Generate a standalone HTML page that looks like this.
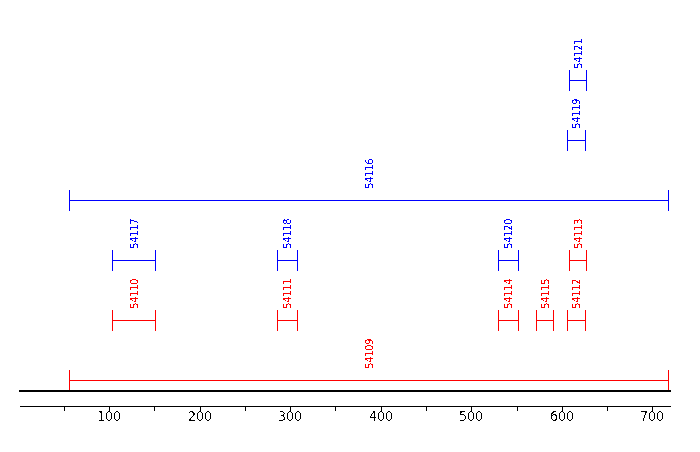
<!DOCTYPE html>
<html lang="en">
<head>
<meta charset="utf-8">
<title>Feature map</title>
<style>
html,body{margin:0;padding:0;background:#ffffff;}
body{width:700px;height:452px;overflow:hidden;}
svg{display:block;}
.lab{font-family:"DejaVu Sans Condensed","DejaVu Sans","Liberation Sans",sans-serif;font-size:11px;letter-spacing:-0.29px;}
.ax{font-family:"DejaVu Sans Condensed","DejaVu Sans","Liberation Sans",sans-serif;font-size:14px;letter-spacing:0px;fill:#000000;text-anchor:middle;}
</style>
</head>
<body>
<svg width="700" height="452" viewBox="0 0 700 452" shape-rendering="crispEdges">
<defs>
<filter id="bw" x="0" y="0" width="700" height="400" filterUnits="userSpaceOnUse" color-interpolation-filters="sRGB">
<feComponentTransfer><feFuncA type="discrete" tableValues="0 1"/></feComponentTransfer>
</filter>
<filter id="bw2" x="0" y="400" width="700" height="52" filterUnits="userSpaceOnUse" color-interpolation-filters="sRGB">
<feComponentTransfer><feFuncA type="discrete" tableValues="0 0 0 0 0 0 0 0 0 0 0 1 1 1 1 1 1 1 1 1"/></feComponentTransfer>
</filter>
</defs>
<rect x="0" y="0" width="700" height="452" fill="#ffffff"/>
<g id="brackets">
<g fill="#ff0000"><rect x="69" y="380" width="600" height="1"/><rect x="69" y="370" width="1" height="21"/><rect x="668" y="370" width="1" height="21"/></g>
<g fill="#ff0000"><rect x="112" y="320" width="44" height="1"/><rect x="112" y="310" width="1" height="21"/><rect x="155" y="310" width="1" height="21"/></g>
<g fill="#ff0000"><rect x="277" y="320" width="21" height="1"/><rect x="277" y="310" width="1" height="21"/><rect x="297" y="310" width="1" height="21"/></g>
<g fill="#ff0000"><rect x="498" y="320" width="21" height="1"/><rect x="498" y="310" width="1" height="21"/><rect x="518" y="310" width="1" height="21"/></g>
<g fill="#ff0000"><rect x="536" y="320" width="18" height="1"/><rect x="536" y="310" width="1" height="21"/><rect x="553" y="310" width="1" height="21"/></g>
<g fill="#ff0000"><rect x="567" y="320" width="19" height="1"/><rect x="567" y="310" width="1" height="21"/><rect x="585" y="310" width="1" height="21"/></g>
<g fill="#ff0000"><rect x="569" y="260" width="18" height="1"/><rect x="569" y="250" width="1" height="21"/><rect x="586" y="250" width="1" height="21"/></g>
<g fill="#0000ff"><rect x="112" y="260" width="44" height="1"/><rect x="112" y="250" width="1" height="21"/><rect x="155" y="250" width="1" height="21"/></g>
<g fill="#0000ff"><rect x="277" y="260" width="21" height="1"/><rect x="277" y="250" width="1" height="21"/><rect x="297" y="250" width="1" height="21"/></g>
<g fill="#0000ff"><rect x="498" y="260" width="21" height="1"/><rect x="498" y="250" width="1" height="21"/><rect x="518" y="250" width="1" height="21"/></g>
<g fill="#0000ff"><rect x="69" y="200" width="600" height="1"/><rect x="69" y="190" width="1" height="21"/><rect x="668" y="190" width="1" height="21"/></g>
<g fill="#0000ff"><rect x="567" y="140" width="19" height="1"/><rect x="567" y="130" width="1" height="21"/><rect x="585" y="130" width="1" height="21"/></g>
<g fill="#0000ff"><rect x="569" y="80" width="18" height="1"/><rect x="569" y="70" width="1" height="21"/><rect x="586" y="70" width="1" height="21"/></g>
</g>
<g id="labels" filter="url(#bw)">
<text class="lab" fill="#ff0000" transform="translate(373,368.75) rotate(-90)">54109</text>
<text class="lab" fill="#ff0000" transform="translate(138,308.75) rotate(-90)">54110</text>
<text class="lab" fill="#ff0000" transform="translate(291,308.75) rotate(-90)">54111</text>
<text class="lab" fill="#ff0000" transform="translate(512,308.75) rotate(-90)">54114</text>
<text class="lab" fill="#ff0000" transform="translate(549,308.75) rotate(-90)">54115</text>
<text class="lab" fill="#ff0000" transform="translate(580,308.75) rotate(-90)">54112</text>
<text class="lab" fill="#ff0000" transform="translate(582,248.75) rotate(-90)">54113</text>
<text class="lab" fill="#0000ff" transform="translate(138,248.75) rotate(-90)">54117</text>
<text class="lab" fill="#0000ff" transform="translate(291,248.75) rotate(-90)">54118</text>
<text class="lab" fill="#0000ff" transform="translate(512,248.75) rotate(-90)">54120</text>
<text class="lab" fill="#0000ff" transform="translate(373,188.75) rotate(-90)">54116</text>
<text class="lab" fill="#0000ff" transform="translate(580,128.75) rotate(-90)">54119</text>
<text class="lab" fill="#0000ff" transform="translate(582,68.75) rotate(-90)">54121</text>
</g>
<g id="axis" fill="#000000">
<rect x="19" y="390" width="652" height="2"/>
<rect x="20" y="406" width="651" height="1"/>
<rect x="64" y="407" width="1" height="4"/>
<rect x="154" y="407" width="1" height="4"/>
<rect x="245" y="407" width="1" height="4"/>
<rect x="335" y="407" width="1" height="4"/>
<rect x="426" y="407" width="1" height="4"/>
<rect x="517" y="407" width="1" height="4"/>
<rect x="607" y="407" width="1" height="4"/>
<rect x="109" y="407" width="1" height="5"/>
<rect x="200" y="407" width="1" height="5"/>
<rect x="290" y="407" width="1" height="5"/>
<rect x="381" y="407" width="1" height="5"/>
<rect x="471" y="407" width="1" height="5"/>
<rect x="562" y="407" width="1" height="5"/>
<rect x="652" y="407" width="1" height="5"/>
</g>
<g id="ticklabels" filter="url(#bw2)">
<text class="ax" x="109" y="421">100</text>
<text class="ax" x="200" y="421">200</text>
<text class="ax" x="290" y="421">300</text>
<text class="ax" x="381" y="421">400</text>
<text class="ax" x="471" y="421">500</text>
<text class="ax" x="562" y="421">600</text>
<text class="ax" x="652" y="421">700</text>
</g>
</svg>
</body>
</html>
